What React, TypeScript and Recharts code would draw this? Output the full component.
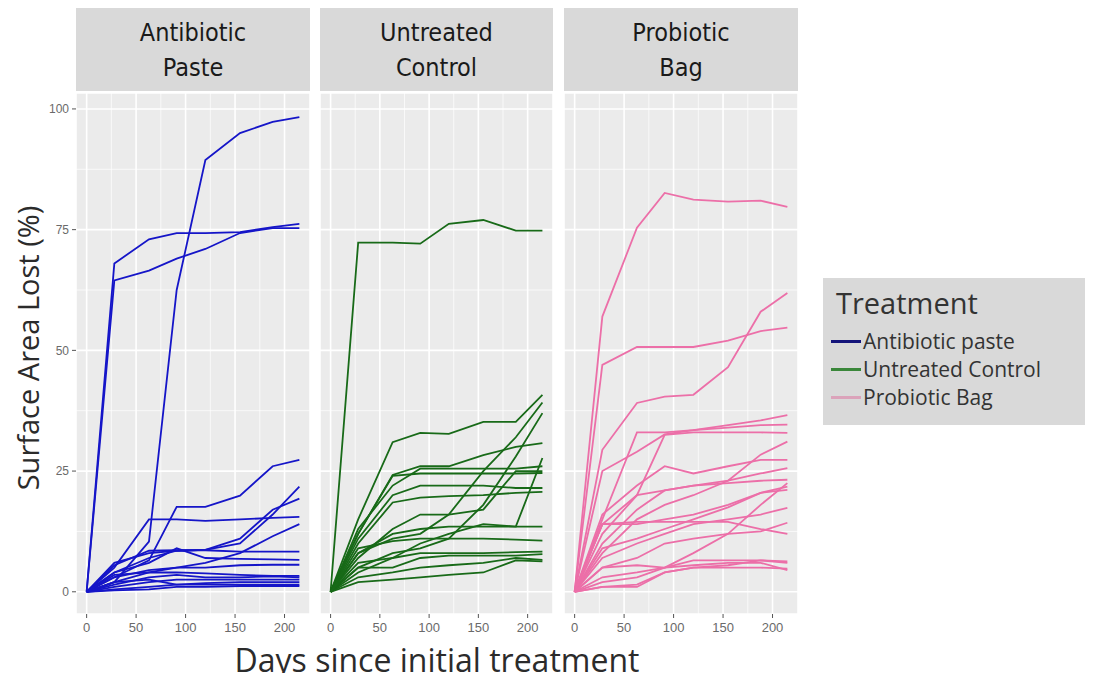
import React from 'react';
import { LineChart, Line, XAxis, YAxis, CartesianGrid, ReferenceLine } from 'recharts';

// sampling days shared by every tree
const days = [0, 28, 63, 91, 120, 155, 188, 215];

// surface area lost (%) per tree, one row per tree
const antibioticPaste = [
  [0, 68, 73, 74.3, 74.3, 74.5, 75.5, 76.2],
  [0, 64.5, 66.5, 69, 71, 74.3, 75.3, 75.3],
  [0, 2, 10.4, 62.5, 89.4, 95, 97.3, 98.3],
  [0, 3, 6.5, 17.6, 17.6, 19.9, 26, 27.3],
  [0, 5, 15, 15, 14.7, 15, 15.3, 15.5],
  [0, 4, 7, 8.5, 8.7, 10, 16, 21.8],
  [0, 6, 8, 8.5, 8.7, 11, 17, 19.3],
  [0, 2, 4, 5, 6, 8, 11.5, 14],
  [0, 5.5, 8.5, 8.6, 8.6, 8.3, 8.3, 8.3],
  [0, 4, 6, 9, 7, 6.8, 6.7, 6.6],
  [0, 3, 4.5, 5, 5, 5.5, 5.6, 5.6],
  [0, 1.5, 3, 3.5, 3, 3, 3.2, 3],
  [0, 1, 2, 2.5, 2.5, 2.5, 2.5, 2.5],
  [0, 0.5, 1, 1.5, 1.8, 2, 2, 2],
  [0, 2, 2.5, 1.5, 1.5, 1.5, 1.5, 1.5],
  [0, 0.3, 0.5, 1, 1, 1.2, 1.2, 1.2],
  [0, 3.5, 4, 4, 3.8, 3.5, 3.3, 3.3],
];

const untreatedControl = [
  [0, 72.3, 72.3, 72.1, 76.2, 77, 74.8, 74.8],
  [0, 15, 31, 32.9, 32.7, 35.2, 35.2, 40.8],
  [0, 12, 24.2, 26, 26, 28.3, 30, 30.8],
  [0, 13, 22, 25.5, 25.5, 25.5, 25.5, 26],
  [0, 12, 24, 24.5, 24.5, 24.5, 24.5, 24.6],
  [0, 11, 20, 22, 22, 22, 21.5, 21.5],
  [0, 10, 18.5, 19.5, 19.8, 20, 20.5, 20.7],
  [0, 8, 11, 12, 16, 25, 32, 39.2],
  [0, 5, 8, 9, 11, 18, 28, 37],
  [0, 8, 12, 13, 13.5, 13.5, 13.5, 13.5],
  [0, 9, 10.5, 11, 11, 11, 10.8, 10.6],
  [0, 4, 7, 8, 8, 8, 8.2, 8.3],
  [0, 5, 5, 7, 7.5, 7.5, 7.5, 7.8],
  [0, 3, 4, 5, 5.5, 6, 7, 6.6],
  [0, 2, 2.5, 3, 3.5, 4, 6.5, 6.3],
  [0, 6, 7, 10, 12, 14, 13.5, 27.7],
  [0, 7, 13, 16, 16, 17, 25, 25],
];

const probioticBag = [
  [0, 57, 75.4, 82.6, 81.2, 80.8, 81, 79.7],
  [0, 29.4, 39.1, 40.4, 40.8, 46.5, 58, 61.9],
  [0, 47, 50.7, 50.7, 50.7, 52, 54, 54.7],
  [0, 15, 33, 33, 33.5, 34.5, 35.5, 36.6],
  [0, 25, 29, 32.6, 33.5, 34, 34.5, 34.6],
  [0, 12, 20, 32.5, 33, 33, 33, 32.9],
  [0, 8, 15, 18, 20, 23, 28.4, 31.1],
  [0, 16, 22, 26, 24.5, 26, 27.3, 27.3],
  [0, 14, 20, 21, 22, 23, 24.5, 25.6],
  [0, 10, 17, 21, 22, 22.5, 23, 23.2],
  [0, 14, 14, 15, 16, 18, 20.5, 21.8],
  [0, 9, 11, 13, 15, 17.5, 20.5, 21.1],
  [0, 7, 10, 12, 14, 15, 16, 17.4],
  [0, 5, 7, 10, 11, 12, 12.5, 14.3],
  [0, 14, 14.5, 14.5, 14.5, 14.5, 13, 12],
  [0, 2, 3, 5, 8, 12, 18, 22.5],
  [0, 3, 4, 5, 6.5, 6.5, 6.5, 6],
  [0, 1, 1, 4, 5, 5, 5, 4.8],
  [0, 5, 5.5, 5, 5.5, 6, 6, 4.5],
  [0, 1, 1.5, 4, 5, 5.5, 6.5, 6.3],
];

const xTicks = [0, 50, 100, 150, 200];
const yTicks = [0, 25, 50, 75, 100];
const xMinor = [25, 75, 125, 175];
const yMinor = [12.5, 37.5, 62.5, 87.5];

const legendItems = [
  { label: 'Antibiotic paste', color: '#14147a' },
  { label: 'Untreated Control', color: '#3a873a' },
  { label: 'Probiotic Bag', color: '#dba3ba' },
];

const panels = [
  { title: ['Antibiotic', 'Paste'], series: antibioticPaste, color: '#1515c8', left: 76, width: 234 },
  { title: ['Untreated', 'Control'], series: untreatedControl, color: '#186a18', left: 320, width: 233 },
  { title: ['Probiotic', 'Bag'], series: probioticBag, color: '#ec6fa8', left: 564, width: 234 },
];

const PLOT_TOP = 93;
const PLOT_H = 521;
const X_AXIS_H = 34;
const Y_AXIS_W = 76;
const sans = '"Liberation Sans", Arial, sans-serif';
const narrow = '"Liberation Sans Narrow", "DejaVu Sans Condensed", "Liberation Sans", sans-serif';
const titleFont = '"Open Sans", sans-serif';

const toRows = (series: number[][]) =>
  days.map((day, i) => {
    const row: Record<string, number> = { day };
    series.forEach((s, k) => (row[`s${k}`] = s[i]));
    return row;
  });

const Panel = ({ p, first }: { p: (typeof panels)[number]; first: boolean }) => {
  const w = p.width + (first ? Y_AXIS_W : 0);
  return (
    <div style={{ position: 'absolute', left: p.left - (first ? Y_AXIS_W : 0), top: PLOT_TOP }}>
      <LineChart width={w} height={PLOT_H + X_AXIS_H} data={toRows(p.series)} margin={{ top: 0, right: 0, bottom: 0, left: 0 }}>
        <CartesianGrid fill="#ebebeb" stroke="#ffffff" strokeWidth={1.6} />
        {xMinor.map((v) => (
          <ReferenceLine key={`vx${v}`} x={v} stroke="#ffffff" strokeWidth={0.7} />
        ))}
        {yMinor.map((v) => (
          <ReferenceLine key={`hy${v}`} y={v} stroke="#ffffff" strokeWidth={0.7} />
        ))}
        <XAxis
          type="number"
          dataKey="day"
          domain={[-10.75, 225.75]}
          ticks={xTicks}
          allowDataOverflow
          height={X_AXIS_H}
          axisLine={false}
          tickSize={4}
          tickMargin={5}
          tickLine={{ stroke: '#555' }}
          tick={{ fill: '#6a6a6a', fontSize: 13, fontFamily: sans }}
        />
        <YAxis
          hide={!first}
          domain={[-4.6, 103.3]}
          ticks={yTicks}
          allowDataOverflow
          width={Y_AXIS_W}
          axisLine={false}
          tickSize={4}
          tickMargin={3}
          tickLine={{ stroke: '#555' }}
          tick={{ fill: '#6a6a6a', fontSize: 12, fontFamily: sans }}
        />
        {p.series.map((_, k) => (
          <Line
            key={k}
            type="linear"
            dataKey={`s${k}`}
            stroke={p.color}
            strokeWidth={1.8}
            dot={false}
            activeDot={false}
            isAnimationActive={false}
          />
        ))}
      </LineChart>
    </div>
  );
};

export default function App() {
  return (
    <div style={{ position: 'relative', width: 1093, height: 681, margin: -8, background: '#fff', overflow: 'hidden' }}>
      {panels.map((p) => (
        <div
          key={p.title.join(' ')}
          style={{
            position: 'absolute',
            left: p.left,
            top: 8,
            width: p.width,
            height: PLOT_TOP - 8 - 2,
            background: '#d9d9d9',
            color: '#1a1a1a',
            fontFamily: narrow,
            fontSize: 25,
            lineHeight: '35px',
            textAlign: 'center',
            paddingTop: 7,
            boxSizing: 'border-box',
          }}
        >
          {p.title.map((t) => (
            <div key={t}>{t}</div>
          ))}
        </div>
      ))}
      {panels.map((p, i) => (
        <Panel key={i} p={p} first={i === 0} />
      ))}
      <div
        style={{
          position: 'absolute',
          left: 27,
          top: 348,
          transform: 'translate(-50%, -50%) rotate(-90deg)',
          whiteSpace: 'nowrap',
          fontFamily: titleFont,
          fontSize: 29,
          color: '#2b2b2b',
        }}
      >
        Surface Area Lost (%)
      </div>
      <div
        style={{
          position: 'absolute',
          left: 437,
          top: 659,
          transform: 'translate(-50%, -50%)',
          whiteSpace: 'nowrap',
          fontFamily: titleFont,
          fontSize: 32,
          color: '#2b2b2b',
        }}
      >
        Days since initial treatment
      </div>
      <div
        style={{
          position: 'absolute',
          left: 823,
          top: 278,
          width: 270,
          height: 147,
          background: '#d9d9d9',
          fontFamily: titleFont,
          color: '#333',
        }}
      >
        <div style={{ position: 'absolute', left: 13, top: 7, fontSize: 29, lineHeight: '36px' }}>Treatment</div>
        {legendItems.map((it, i) => (
          <div
            key={it.label}
            style={{ position: 'absolute', left: 8, top: 51 + i * 28, display: 'flex', alignItems: 'center', fontSize: 21, lineHeight: '24px', whiteSpace: 'nowrap' }}
          >
            <span style={{ display: 'inline-block', width: 30, height: 3, background: it.color, marginRight: 2 }} />
            {it.label}
          </div>
        ))}
      </div>
    </div>
  );
}
